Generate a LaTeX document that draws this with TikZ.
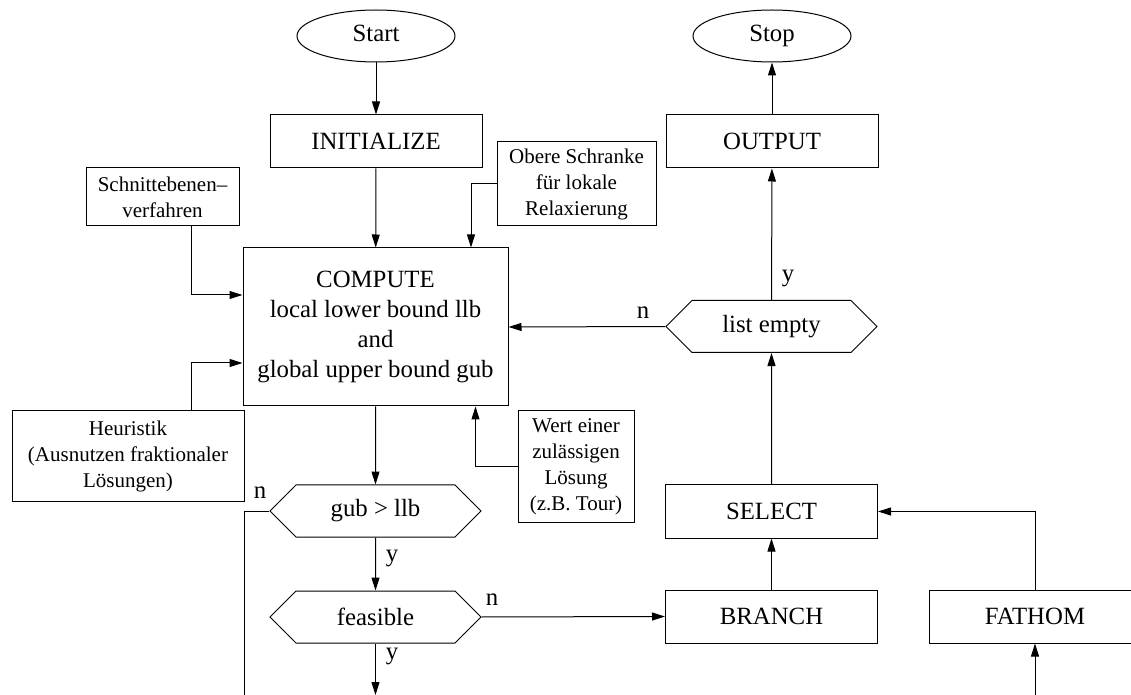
\documentclass[tikz,border=0pt]{standalone}
\usepackage{fontspec}
\setmainfont{Liberation Serif}
\usetikzlibrary{arrows.meta,shapes.geometric,shapes.symbols}

\tikzset{
  big/.style={font=\fontsize{12.4}{15}\selectfont},
  small/.style={font=\fontsize{10.5}{13}\selectfont},
  box/.style={draw, rectangle, big, align=center, inner sep=0pt, minimum width=106pt, minimum height=26.5pt},
  note/.style={draw, rectangle, small, align=center, inner sep=0pt},
  term/.style={draw, ellipse, big, inner sep=0pt, text height=8.5pt, text depth=2.5pt, minimum width=79pt, minimum height=26pt},
  test/.style={draw, signal, signal to=east and west, signal pointer angle=90, big, inner sep=0pt, minimum width=105.5pt, minimum height=26pt},
  arr/.style={-{Triangle[length=6.5pt,width=4pt]}}
}

\begin{document}
\begin{tikzpicture}[x=0.5pt, y=-0.5pt, line width=0.5pt]
            \clip (0,0) rectangle (1131,695);

            \node[term] (start) at (376,36) {Start};
            \node[term] (stop) at (772,36) {Stop};
            \node[box] (init) at (376,141.5) {INITIALIZE};
            \node[box] (output) at (772,141.5) {OUTPUT};
            \node[box, minimum width=132.5pt, minimum height=79pt] (compute) at (375.5,327)
                {COMPUTE\\local lower bound llb\\and\\global upper bound gub};
            \node[note, minimum width=76.5pt, minimum height=29pt] (schnitt) at (162.5,197)
                {Schnittebenen--\\verfahren};
            \node[note, minimum width=79.5pt, minimum height=42pt] (obere) at (576.5,184)
                {Obere Schranke\\f\"ur lokale\\Relaxierung};
            \node[note, minimum width=116pt, minimum height=45pt] (heur) at (128,456)
                {Heuristik\\(Ausnutzen fraktionaler\\L\"osungen)};
            \node[note, minimum width=58pt, minimum height=55.5pt] (wert) at (576,466.5)
                {Wert einer\\zul\"assigen\\L\"osung\\(z.B. Tour)};
            \node[test] (gub) at (375.5,511) {gub > llb};
            \node[test] (feas) at (375.5,617) {feasible};
            \node[test] (empty) at (771.5,326.5) {list empty};
            \node[box] (select) at (771.5,511.5) {SELECT};
            \node[box] (branch) at (771.5,616.5) {BRANCH};
            \node[box] (fathom) at (1035,616.5) {FATHOM};

            \coordinate (gubleft) at (244,511);
            \coordinate (gubdown) at (244,695);
            \coordinate (feasdown) at (375.5,695);
            \coordinate (fathomin) at (1035,695);

            \draw[arr] (start) -- (init);
            \draw[arr] (output) -- (stop);
            \draw[arr] (init) -- (compute);
            \draw[arr] (obere.west) -| ([xshift=47.75pt]compute.north);
            \draw[arr] ([xshift=14.25pt]schnitt.south) |- ([yshift=16pt]compute.west);
            \draw[arr] ([xshift=31.5pt]heur.north) |- ([yshift=-18pt]compute.west);
            \draw[arr] (wert.west) -| ([xshift=50pt]compute.south);
            \draw[arr] (compute) -- (gub);
            \draw[arr] (gub) -- (feas);
            \draw[arr] (feas) -- (feasdown);
            \draw[arr] (feas.east) -- (branch.west);
            \draw (gub.west) -- (gubleft) -- (gubdown);
            \draw[arr] (branch) -- (select);
            \draw[arr] (select) -- (empty);
            \draw[arr] (empty) -- (output);
            \draw[arr] (empty.west) -- (compute.east);
            \draw[arr] (fathom.north) |- (select.east);
            \draw[arr] (fathomin) -- (fathom.south);

            \node[big] (n1) at (260,493) {n};
            \node[big] (y1) at (392,558) {y};
            \node[big] (y2) at (392,656) {y};
            \node[big] (n2) at (492,600) {n};
            \node[big] (y3) at (788,278) {y};
            \node[big] (n3) at (643,313) {n};
        \end{tikzpicture}
\end{document}
